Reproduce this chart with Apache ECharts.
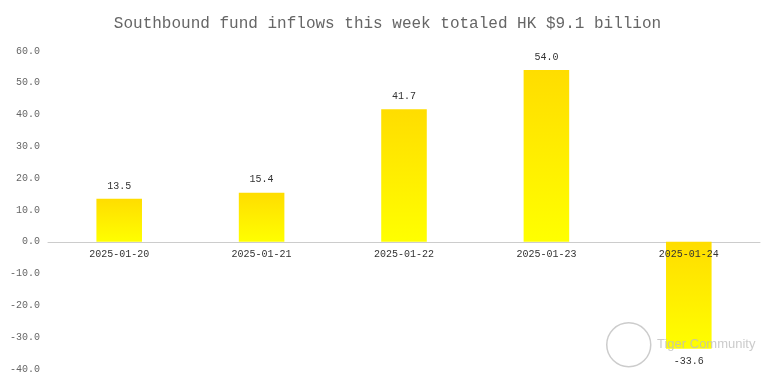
<!DOCTYPE html>
<html><head><meta charset="utf-8">
<script src="https://cdn.jsdelivr.net/npm/echarts@6/dist/echarts.min.js"></script>
<style>html,body{margin:0;padding:0;background:#fff}#c{width:775px;height:384px}</style>
</head><body><div id="c"></div>
<script>
const titleText = 'Southbound fund inflows this week totaled HK $9.1 billion';
const categories = ['2025-01-20','2025-01-21','2025-01-22','2025-01-23','2025-01-24'];
const inflows = [13.5, 15.4, 41.7, 54.0, -33.6];
const yMin = -40, yMax = 60, yStep = 10;

const gridTop = 51, gridBottom = 15, chartH = 384;
const plotH = chartH - gridTop - gridBottom;
const zeroOffset = plotH * (0 - yMin) / (yMax - yMin);

const chart = echarts.init(document.getElementById('c'));
chart.setOption({
  backgroundColor: '#fff',
  animation: false,
  title: {
    text: titleText, left: 'center', top: 11,
    textStyle: { fontFamily: 'Liberation Mono', fontWeight: 'normal', fontSize: 16, color: '#666' }
  },
  grid: { left: 48, right: 15, top: gridTop, bottom: gridBottom },
  xAxis: [{
    type: 'category', data: categories, z: 0,
    position: 'bottom', offset: -zeroOffset,
    axisLine: { onZero: false, lineStyle: { color: '#ccc' } },
    axisTick: { lineStyle: { color: '#ccc' }, length: 4 },
    axisLabel: { show: false }
  }, {
    type: 'category', data: categories, z: 10,
    position: 'bottom', offset: -zeroOffset,
    axisLine: { show: false, onZero: false },
    axisTick: { show: false },
    axisLabel: { fontFamily: 'Liberation Mono', fontSize: 10, color: '#333', margin: 8 }
  }],
  yAxis: {
    type: 'value', min: yMin, max: yMax, interval: yStep,
    axisLine: { show: false }, axisTick: { show: false }, splitLine: { show: false },
    axisLabel: { fontFamily: 'Liberation Mono', fontSize: 10, color: '#666', formatter: v => v.toFixed(1) }
  },
  series: [{
    type: 'bar', barWidth: '32%', z: 2, xAxisIndex: 0,
    data: inflows.map(v => v < 0 ? { value: v, label: { position: 'bottom' } } : v),
    itemStyle: {
      color: new echarts.graphic.LinearGradient(0, 0, 0, 1, [
        { offset: 0, color: '#FFDD00' }, { offset: 1, color: '#FFFF00' }
      ])
    },
    label: {
      show: true, position: 'top', distance: 8,
      fontFamily: 'Liberation Mono', fontSize: 10, color: '#333',
      formatter: p => p.value.toFixed(1)
    }
  }],
  graphic: [
    { type: 'circle', left: 606, top: 322, z: 100, shape: { r: 22 }, style: { fill: 'rgba(255,255,255,0.3)', stroke: '#ccc', lineWidth: 1.5 } },
    { type: 'text', left: 657, top: 338, z: 100, style: { text: 'Tiger Community', fill: 'rgba(190,190,190,0.8)', font: '13px "Liberation Sans"' } }
  ]
});
</script></body></html>
